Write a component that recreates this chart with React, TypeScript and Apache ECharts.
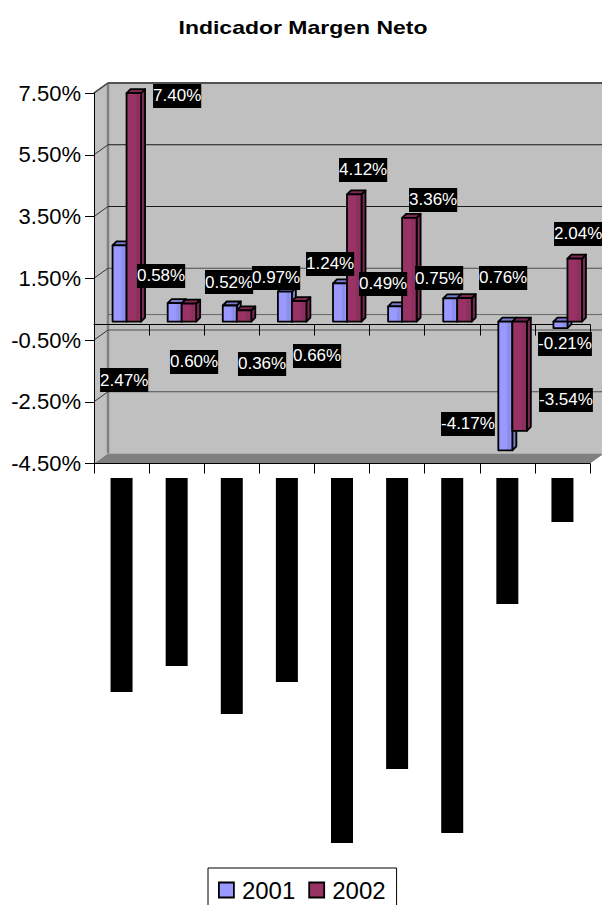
import React, { useEffect, useRef } from "react";
import * as echarts from "echarts";

const categories = ["A", "B", "C", "D", "E", "F", "G", "H", "I"];
const values2001 = [2.47, 0.6, 0.52, 0.97, 1.24, 0.49, 0.75, -4.17, -0.21];
const values2002 = [7.4, 0.58, 0.36, 0.66, 4.12, 3.36, 0.76, -3.54, 2.04];
const tickValues = [7.5, 5.5, 3.5, 1.5, -0.5, -2.5, -4.5];
const hiddenLabelLengths = [214, 188, 236, 204, 365, 291, 355, 126, 44];

// Label box offsets from each bar's end on the front plane.
const labelOffsets2001 = [
  [-21.5, 119.7], [-6.7, 43.9], [-26.8, -38.5], [-34.9, -28.7], [-36, -34.3],
  [-38.1, -37.5], [-37.2, -35.4], [-66.3, -41.4], [-24.4, 0.9],
];
const labelOffsets2002 = [
  [31.5, -12.1], [-39.7, -42.7], [6.2, 38.5], [6.1, 39.8], [-3, -39.4],
  [11.9, -32.9], [26.8, -35.1], [31.7, -45.9], [-8.4, -39.6],
];

const FONT = "'Liberation Sans', Arial, sans-serif";
const WALL_DX = 14;
const WALL_DY = -10;
const BAR_DX = 4;
const BAR_DY = 4;
const BAR_LIFT = -3;

const pct = (v: number) => `${v.toFixed(2)}%`;

// Side wall, back wall, floor and gridlines of the pseudo-3D plot box.
function renderWalls(params: any, api: any) {
  const cs = params.coordSys;
  const l = cs.x;
  const r = cs.x + cs.width;
  const t = cs.y;
  const b = cs.y + cs.height;
  const poly = (points: number[][], fill: string) => ({
    type: "polygon",
    silent: true,
    shape: { points },
    style: { fill, stroke: "none" },
  });
  const line = (x1: number, y1: number, x2: number, y2: number, stroke: string, lineWidth: number) => ({
    type: "line",
    silent: true,
    shape: { x1, y1, x2, y2 },
    style: { stroke, lineWidth },
  });
  const children: any[] = [
    poly([[l + WALL_DX, t + WALL_DY], [r + WALL_DX, t + WALL_DY], [r + WALL_DX, b + WALL_DY], [l + WALL_DX, b + WALL_DY]], "#c0c0c0"),
    poly([[l, t], [l + WALL_DX, t + WALL_DY], [l + WALL_DX, b + WALL_DY], [l, b]], "#c0c0c0"),
    poly([[l, b], [l + WALL_DX, b + WALL_DY], [r + WALL_DX, b + WALL_DY], [r, b]], "#808080"),
    line(l, t, l + WALL_DX, t + WALL_DY, "#808080", 2),
    line(l + WALL_DX, t + WALL_DY, r + WALL_DX, t + WALL_DY, "#8c8c8c", 2),
    line(l + WALL_DX, t + WALL_DY, l + WALL_DX, b + WALL_DY, "#808080", 2.5),
  ];
  tickValues.slice(0, -1).forEach((v) => {
    const y = api.coord([0, v])[1];
    const stroke = v > 2 ? "#1a1a1a" : "#4d4d4d";
    children.push(line(l, y, l + WALL_DX, y + WALL_DY, "#333333", 1));
    children.push(line(l + WALL_DX, y + WALL_DY, r + WALL_DX, y + WALL_DY, stroke, 1));
  });
  const zeroY = api.coord([0, 0])[1] + WALL_DY;
  children.push(line(l + WALL_DX, zeroY, r + WALL_DX, zeroY, "#666666", 1));
  return { type: "group", children };
}

// One bar drawn as front, side and cap faces.
function barRenderer(shift: number, width: number, front: string, shade: string, stripe: string) {
  return (_params: any, api: any) => {
    const [cx, y1] = api.coord([api.value(0), api.value(1)]);
    const y0 = api.coord([api.value(0), 0])[1];
    const x0 = cx + shift;
    const x1 = x0 + width;
    const top = Math.min(y0, y1) + BAR_LIFT;
    const bot = Math.max(y0, y1) + BAR_LIFT;
    const edge = { stroke: "#000000", lineWidth: 1.8, lineJoin: "round" };
    const fill = {
      type: "linear",
      x: 0,
      y: 0,
      x2: 1,
      y2: 0,
      colorStops: [
        { offset: 0, color: front },
        { offset: 0.55, color: front },
        { offset: 0.75, color: stripe },
        { offset: 1, color: front },
      ],
    };
    return {
      type: "group",
      children: [
        { type: "polygon", shape: { points: [[x1, top], [x1 + BAR_DX, top - BAR_DY], [x1 + BAR_DX, bot - BAR_DY], [x1, bot]] }, style: { fill: shade, ...edge } },
        { type: "polygon", shape: { points: [[x0, top], [x0 + BAR_DX, top - BAR_DY], [x1 + BAR_DX, top - BAR_DY], [x1, top]] }, style: { fill: shade, ...edge } },
        { type: "rect", shape: { x: x0, y: top, width: x1 - x0, height: bot - top }, style: { fill, ...edge } },
      ],
    };
  };
}

// White-on-black value label placed relative to its bar's end.
function labelRenderer(offsets: number[][]) {
  return (_params: any, api: any) => {
    const i = api.value(0);
    const v = api.value(1);
    const [cx, y] = api.coord([i, v]);
    return {
      type: "text",
      x: cx + offsets[i][0],
      y: y + offsets[i][1],
      style: {
        text: pct(v),
        font: `17px ${FONT}`,
        fill: "#ffffff",
        backgroundColor: "#000000",
        lineHeight: 24,
        align: "left",
        verticalAlign: "top",
      },
    };
  };
}

export default function App() {
  const ref = useRef<HTMLDivElement>(null);

  useEffect(() => {
    const chart = echarts.init(ref.current!, undefined, { renderer: "svg" });
    const pair = (vals: number[]) => vals.map((v, i) => [i, v]);
    const categoryAxis = { type: "category", data: categories, gridIndex: 0, z: 3 };
    chart.setOption({
      animation: false,
      backgroundColor: "#ffffff",
      graphic: [
        {
          type: "text",
          x: 303,
          y: 27,
          scaleX: 1.21,
          style: {
            text: "Indicador Margen Neto",
            font: `bold 19px ${FONT}`,
            fill: "#000000",
            align: "center",
            verticalAlign: "middle",
          },
        },
      ],
      legend: {
        data: ["2001", "2002"],
        left: 208,
        top: 868,
        orient: "horizontal",
        padding: [10, 11, 14, 10],
        borderColor: "#000000",
        borderWidth: 1,
        backgroundColor: "#ffffff",
        itemWidth: 15,
        itemHeight: 15,
        itemGap: 13,
        icon: "rect",
        itemStyle: { borderColor: "#000000", borderWidth: 1.8 },
        textStyle: { fontFamily: FONT, fontSize: 24, color: "#000000", padding: [0, 0, 0, 3] },
      },
      grid: [
        { left: 94, top: 93, width: 496, height: 370.5 },
        { left: 94, top: 478, width: 496, height: 365 },
      ],
      xAxis: [
        {
          ...categoryAxis,
          position: "bottom",
          axisLine: { onZero: true, lineStyle: { color: "#000000", width: 1 } },
          axisTick: { show: true, length: 11, alignWithLabel: false, lineStyle: { color: "#000000" } },
          axisLabel: { show: false },
        },
        {
          ...categoryAxis,
          position: "bottom",
          axisLine: { onZero: false, lineStyle: { color: "#000000", width: 1 } },
          axisTick: { show: true, length: 10, lineStyle: { color: "#000000" } },
          axisLabel: { show: false },
        },
        {
          type: "category",
          data: categories,
          gridIndex: 1,
          show: false,
        },
      ],
      yAxis: [
        {
          type: "value",
          gridIndex: 0,
          min: -4.5,
          max: 7.5,
          interval: 2,
          z: 3,
          axisLine: { show: true, onZero: false, lineStyle: { color: "#000000", width: 1 } },
          axisTick: { show: true, length: 9, lineStyle: { color: "#000000" } },
          axisLabel: {
            margin: 13,
            fontFamily: FONT,
            fontSize: 22,
            color: "#000000",
            formatter: (v: number) => pct(v),
          },
          splitLine: { show: false },
        },
        {
          type: "value",
          gridIndex: 1,
          min: 0,
          max: 365,
          inverse: true,
          show: false,
          splitLine: { show: false },
        },
      ],
      series: [
        {
          type: "custom",
          name: "walls",
          z: 1,
          silent: true,
          xAxisIndex: 0,
          yAxisIndex: 0,
          data: [[0, 0]],
          renderItem: renderWalls,
        },
        {
          type: "custom",
          name: "2001",
          z: 4,
          xAxisIndex: 0,
          yAxisIndex: 0,
          itemStyle: { color: "#9999ff" },
          data: pair(values2001),
          renderItem: barRenderer(-9, 14, "#9999ff", "#7a7acc", "#8a8ae6"),
        },
        {
          type: "custom",
          name: "2002",
          z: 5,
          xAxisIndex: 0,
          yAxisIndex: 0,
          itemStyle: { color: "#993366" },
          data: pair(values2002),
          renderItem: barRenderer(5, 14.5, "#993366", "#7a2952", "#8a2e5c"),
        },
        {
          type: "custom",
          name: "labels2001",
          z: 6,
          xAxisIndex: 0,
          yAxisIndex: 0,
          data: pair(values2001),
          renderItem: labelRenderer(labelOffsets2001),
        },
        {
          type: "custom",
          name: "labels2002",
          z: 6,
          xAxisIndex: 0,
          yAxisIndex: 0,
          data: pair(values2002),
          renderItem: labelRenderer(labelOffsets2002),
        },
        {
          type: "bar",
          name: "hidden",
          xAxisIndex: 2,
          yAxisIndex: 1,
          barWidth: 22,
          itemStyle: { color: "#000000" },
          data: hiddenLabelLengths,
        },
      ],
    });
    return () => chart.dispose();
  }, []);

  return (
    <div
      ref={ref}
      style={{ position: "absolute", left: 0, top: 0, width: 602, height: 905 }}
    />
  );
}
